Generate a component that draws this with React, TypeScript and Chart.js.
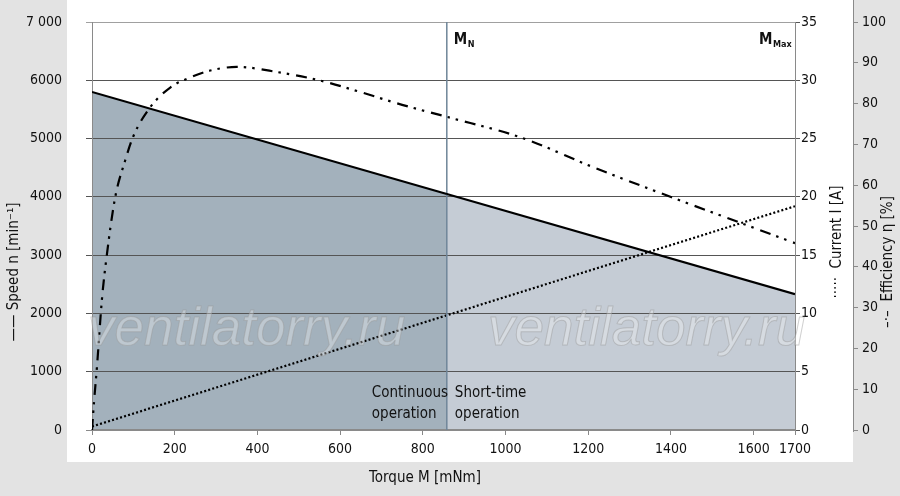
import { useEffect, useRef } from 'react';
import { Chart, registerables } from 'chart.js';

Chart.register(...registerables);

// torque axis [mNm]
const xTicks = [0, 200, 400, 600, 800, 1000, 1200, 1400, 1600, 1700];
const ratedTorque = 858; // M_N
const maxTorque = 1700;

// speed n [min-1]
const speedTorque = [0, 858, 1700];
const speedValues = [5800, 4050, 2330];

// current I [A]
const currentTorque = [0, 1700];
const currentValues = [0.3, 19.2];

// efficiency [%]
const effTorque = [0, 5, 12, 24, 36, 56, 80, 100, 140, 190, 240, 290, 350, 450, 550, 650, 750, 860, 1040, 1210, 1400, 1570, 1700];
const effValues = [0, 7, 15.5, 32, 43, 57, 66, 72, 79, 84, 86.5, 88.2, 89, 87.7, 85.7, 82.8, 79.7, 76.7, 71.6, 64.5, 57.1, 50.7, 45.8];

// condensed face of DejaVu Sans, picked through the font shorthand
const FAMILY = "'DejaVu Sans', sans-serif";
const STRETCH = 'condensed';
const cfont = (size: number, bold = false) => `${bold ? 'bold ' : ''}${STRETCH} ${size}px ${FAMILY}`;
const tickFont = { family: FAMILY, size: 14, weight: STRETCH as any };

const DARK_FILL = '#a3b1bc';
const LIGHT_FILL = '#c5ccd5';

const toPoints = (xs: number[], ys: number[]) => xs.map((x, i) => ({ x, y: ys[i] }));

export default function App() {
  const canvasRef = useRef<HTMLCanvasElement>(null);

  useEffect(() => {
    if (!canvasRef.current) return;

    const overlay = {
      id: 'overlay',
      afterDatasetsDraw(chart: any) {
        const { ctx } = chart;
        ctx.save();
        // watermark
        ctx.font = `italic 53px 'Liberation Sans', Arial, sans-serif`;
        ctx.textBaseline = 'alphabetic';
        ctx.textAlign = 'left';
        ctx.lineWidth = 1;
        ctx.fillStyle = 'rgba(255,255,255,0.3)';
        ctx.strokeStyle = 'rgba(150,150,150,0.45)';
        for (const x0 of [88, 488]) {
          ctx.fillText('ventilatorry.ru', x0, 345);
          ctx.strokeText('ventilatorry.ru', x0, 345);
        }
        ctx.restore();
      },
      afterDraw(chart: any) {
        const { ctx, scales, chartArea } = chart;
        const xs = scales.x;
        const mx = xs.getPixelForValue(ratedTorque);
        ctx.save();
        ctx.fillStyle = '#111';
        ctx.textBaseline = 'middle';

        // efficiency axis line reaches to the top edge
        ctx.strokeStyle = '#8a8a8a';
        ctx.lineWidth = 1;
        ctx.beginPath();
        ctx.moveTo(853.5, 0);
        ctx.lineTo(853.5, chartArea.bottom + 2);
        ctx.stroke();

        // M_N / M_Max labels
        const drawSub = (x: number, y: number, main: string, sub: string) => {
          ctx.textAlign = 'left';
          ctx.font = cfont(15, true);
          ctx.fillText(main, x, y);
          const w = ctx.measureText(main).width;
          ctx.font = cfont(9, true);
          ctx.fillText(sub, x + w + 0.5, y + 5);
        };
        drawSub(mx + 7, 40, 'M', 'N');
        drawSub(xs.getPixelForValue(maxTorque) - 36, 40, 'M', 'Max');

        // operation zones
        ctx.font = cfont(15);
        ctx.textAlign = 'left';
        ctx.fillText('Continuous', mx - 75, 393);
        ctx.fillText('operation', mx - 75, 414);
        ctx.fillText('Short-time', mx + 8, 393);
        ctx.fillText('operation', mx + 8, 414);

        // axis titles
        ctx.font = cfont(15);
        ctx.textAlign = 'center';
        ctx.fillText('Torque M [mNm]', 425, 478);

        const rotated = (x: number, y: number, text: string) => {
          ctx.save();
          ctx.translate(x, y);
          ctx.rotate(-Math.PI / 2);
          ctx.textAlign = 'center';
          ctx.fillText(text, 0, 0);
          ctx.restore();
        };
        rotated(14, 272, '—— Speed n [min⁻¹]');
        rotated(837, 242, '·····  Current I [A]');
        rotated(888, 262, '–·–  Efficiency η [%]');
        ctx.restore();
      },
    };

    const chart = new Chart(canvasRef.current, {
      type: 'line',
      data: {
        datasets: [
          {
            label: 'Speed',
            data: toPoints(speedTorque, speedValues),
            yAxisID: 'y',
            borderColor: '#000',
            borderWidth: 2.2,
            pointRadius: 0,
            fill: 'origin',
            backgroundColor: DARK_FILL,
            segment: {
              backgroundColor: (c: any) => (c.p0.parsed.x < ratedTorque - 1 ? DARK_FILL : LIGHT_FILL),
            },
          } as any,
          {
            label: 'M_N',
            data: [{ x: ratedTorque, y: 0 }, { x: ratedTorque, y: 7000 }],
            yAxisID: 'y',
            borderColor: '#6e8598',
            borderWidth: 1.5,
            pointRadius: 0,
            fill: false,
          },
          {
            label: 'Current',
            data: toPoints(currentTorque, currentValues),
            yAxisID: 'y1',
            borderColor: '#000',
            borderWidth: 2.2,
            borderDash: [2, 2.2],
            pointRadius: 0,
            fill: false,
          },
          {
            label: 'Efficiency',
            data: toPoints(effTorque, effValues),
            yAxisID: 'y2',
            borderColor: '#000',
            borderWidth: 2.2,
            borderDash: [11, 6, 2.5, 6, 2.5, 7],
            cubicInterpolationMode: 'monotone',
            pointRadius: 0,
            fill: false,
          },
        ],
      },
      options: {
        animation: false,
        responsive: true,
        maintainAspectRatio: false,
        layout: { padding: { top: 22, left: 0, right: 0, bottom: 0 } },
        plugins: {
          legend: { display: false },
          tooltip: { enabled: false },
          filler: { drawTime: 'beforeDraw' },
        } as any,
        scales: {
          x: {
            type: 'linear',
            min: 0,
            max: maxTorque,
            afterBuildTicks: (s: any) => {
              s.ticks = xTicks.map((v) => ({ value: v }));
            },
            afterFit: (s: any) => {
              s.height = 66;
            },
            ticks: {
              color: '#111',
              font: tickFont,
              padding: 6,
              maxRotation: 0,
              autoSkip: false,
              callback: (v: any) => String(v),
            },
            grid: { drawOnChartArea: false, tickLength: 5, color: '#888' },
            border: { color: '#8a8a8a', width: 2 },
          },
          y: {
            position: 'left',
            min: 0,
            max: 7000,
            afterFit: (s: any) => {
              s.width = 92;
              s.paddingTop = 0;
              s.paddingBottom = 0;
            },
            ticks: {
              stepSize: 1000,
              color: '#111',
              font: tickFont,
              padding: 24,
              callback: (v: any) => (v === 7000 ? '7 000' : String(v)),
            },
            grid: {
              tickLength: 6,
              color: (c: any) => (c.tick && c.tick.value === 7000 ? '#a0a0a0' : c.tick && c.tick.value === 0 ? '#8a8a8a' : '#555'),
              lineWidth: 1,
            },
            border: { color: '#8a8a8a' },
          },
          y1: {
            position: 'right',
            min: 0,
            max: 35,
            afterFit: (s: any) => {
              s.width = 58;
              s.paddingTop = 0;
              s.paddingBottom = 0;
            },
            ticks: {
              stepSize: 5,
              color: '#111',
              font: tickFont,
              padding: 1,
            },
            grid: { drawOnChartArea: false, tickLength: 5, color: '#555' },
            border: { color: '#8a8a8a' },
          },
          y2: {
            position: 'right',
            min: 0,
            max: 100,
            afterFit: (s: any) => {
              s.width = 47;
              s.paddingTop = 0;
              s.paddingBottom = 0;
            },
            ticks: {
              stepSize: 10,
              color: '#111',
              font: tickFont,
              padding: 4,
            },
            grid: { drawOnChartArea: false, tickLength: 5, color: '#8a8a8a' },
            border: { display: false },
          },
        },
      } as any,
      plugins: [overlay],
    });

    return () => {
      chart.destroy();
    };
  }, []);

  return (
    <div style={{ position: 'fixed', left: 0, top: 0, width: 900, height: 496, background: '#e3e3e3' }}>
      <div style={{ position: 'absolute', left: 67, top: 0, width: 786, height: 462, background: '#fff' }} />
      <div style={{ position: 'absolute', left: 0, top: 0, width: 900, height: 496 }}>
        <canvas ref={canvasRef} />
      </div>
    </div>
  );
}
